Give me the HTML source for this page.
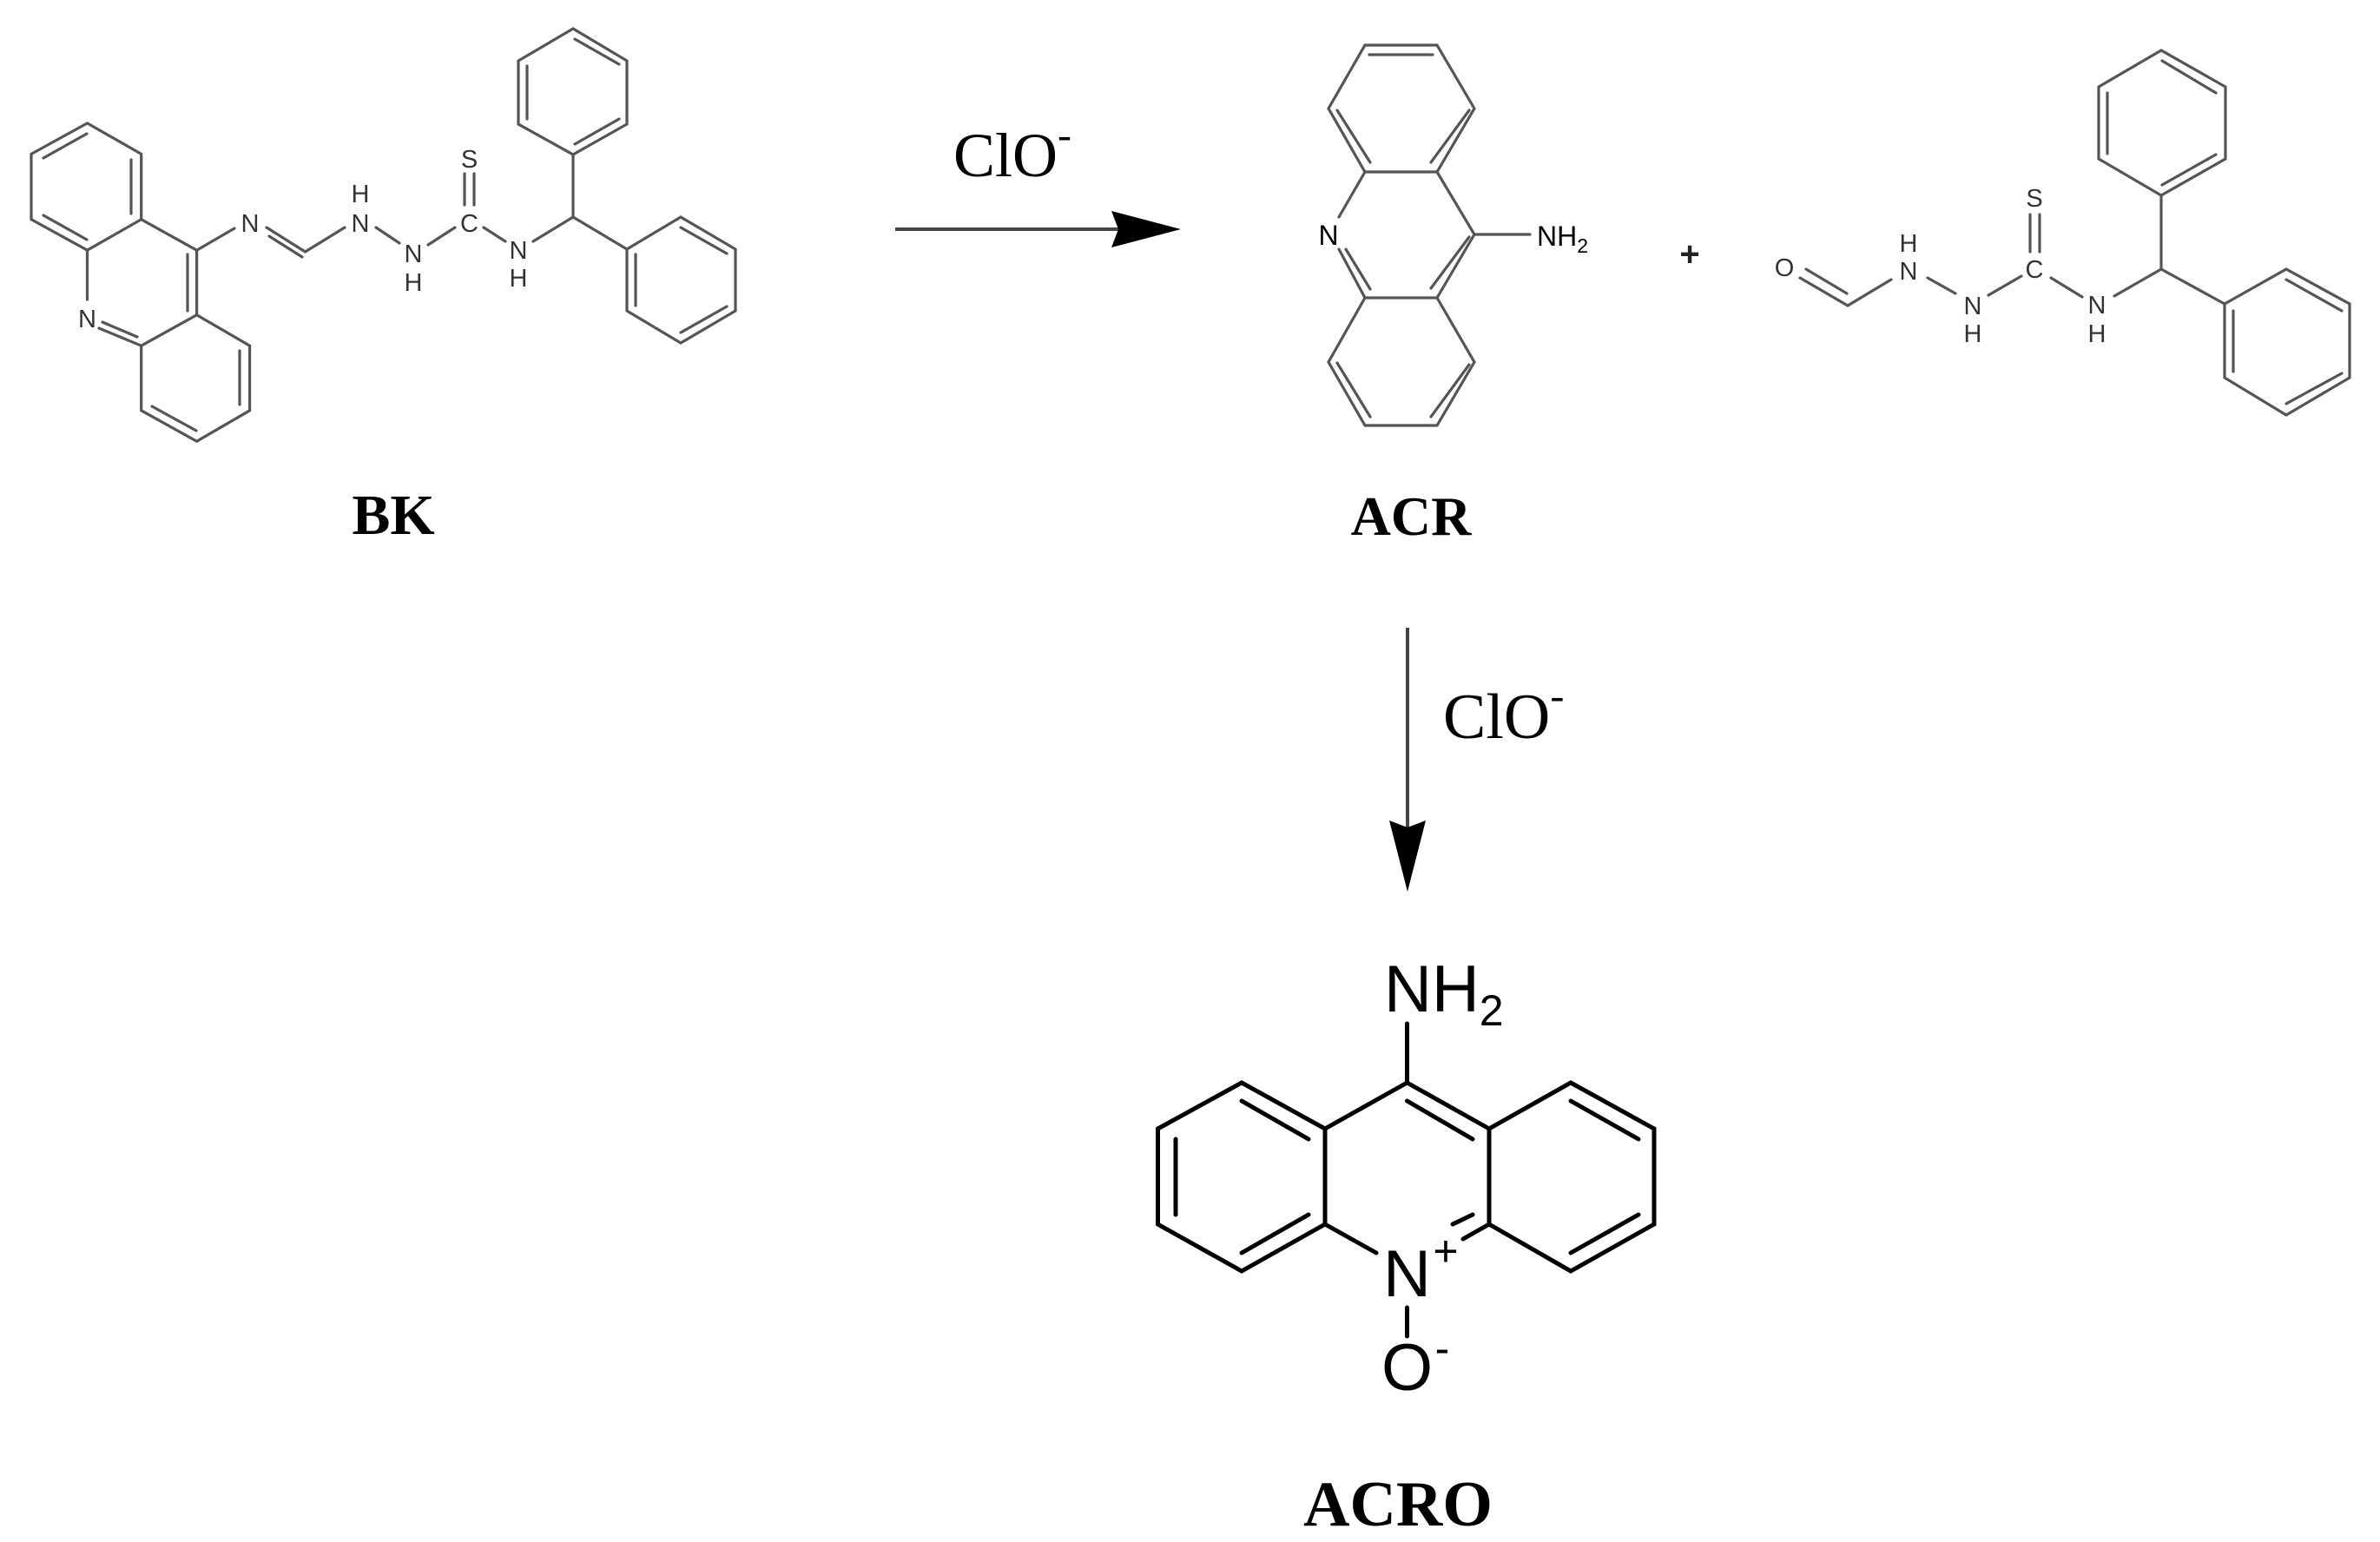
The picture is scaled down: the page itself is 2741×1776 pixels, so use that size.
<!DOCTYPE html>
<html><head><meta charset="utf-8"><style>
html,body{margin:0;padding:0;background:#fff;}
svg{display:block;}
.g{stroke:#555;stroke-width:3.2;fill:none;stroke-linecap:round;}
.k{stroke:#000;stroke-width:5;fill:none;stroke-linecap:round;}
.a{font-family:"Liberation Sans",sans-serif;font-size:29px;fill:#333;text-anchor:middle;}
.b{font-family:"Liberation Serif",serif;font-weight:bold;fill:#000;text-anchor:middle;}
.c{font-family:"Liberation Serif",serif;fill:#000;}
.n{font-family:"Liberation Sans",sans-serif;fill:#000;}
</style></head><body>
<svg width="2741" height="1776" viewBox="0 0 2741 1776" xmlns="http://www.w3.org/2000/svg">
<rect width="2741" height="1776" fill="#fff"/>

<!-- BK -->
<g class="g">
<polyline points="100.5,141.9 162.7,177.4 162.7,252.7 100.5,288.2 36,252.7 36,177.4 100.5,141.9"/>
<line x1="50" y1="182" x2="100" y2="154"/>
<line x1="151" y1="184" x2="151" y2="246"/>
<line x1="50" y1="248" x2="100" y2="276"/>
<line x1="162.7" y1="252.7" x2="226.6" y2="288.2"/>
<line x1="226.6" y1="288.2" x2="226.6" y2="362.7"/>
<line x1="216" y1="293" x2="216" y2="358"/>
<line x1="226.6" y1="362.7" x2="162.7" y2="398.2"/>
<line x1="100.5" y1="288.2" x2="100.5" y2="345"/>
<line x1="114" y1="378" x2="162.7" y2="398.2"/>
<line x1="118" y1="371" x2="158" y2="388"/>
<polyline points="226.6,362.7 287.6,398.2 287.6,472.8 226.6,508.3 162.7,472.8 162.7,398.2"/>
<line x1="276" y1="404" x2="276" y2="466"/>
<line x1="175" y1="468" x2="226" y2="496"/>
<line x1="226.6" y1="288.2" x2="270" y2="263"/>
<line x1="307" y1="262" x2="351.5" y2="290"/>
<line x1="310" y1="272" x2="348" y2="296"/>
<line x1="351.5" y1="290" x2="397" y2="262"/>
<line x1="433" y1="262" x2="460" y2="280"/>
<line x1="493" y1="282" x2="524" y2="262"/>
<line x1="557" y1="262" x2="582" y2="278"/>
<line x1="535" y1="200" x2="535" y2="236"/>
<line x1="546" y1="200" x2="546" y2="236"/>
<line x1="614" y1="278" x2="660" y2="250"/>
<line x1="660" y1="250" x2="660" y2="178"/>
<line x1="660" y1="250" x2="722" y2="287"/>
<polygon points="660,178 722,143 722,70 660,33 597,70 597,143"/>
<line x1="607" y1="76" x2="607" y2="137"/>
<line x1="662" y1="166" x2="713" y2="137"/>
<line x1="662" y1="45" x2="713" y2="74"/>
<polygon points="784,250 847,287 847,358 784,395 722,358 722,287"/>
<line x1="784" y1="262" x2="837" y2="292"/>
<line x1="732" y1="293" x2="732" y2="352"/>
<line x1="784" y1="383" x2="837" y2="353"/>
</g>
<text class="a" x="100.5" y="377">N</text>
<text class="a" x="288" y="267">N</text>
<text class="a" x="415" y="267">N</text><text class="a" x="415" y="233">H</text>
<text class="a" x="476" y="302">N</text><text class="a" x="476" y="335">H</text>
<text class="a" x="540.5" y="267">C</text>
<text class="a" x="540.5" y="193">S</text>
<text class="a" x="597" y="298">N</text><text class="a" x="597" y="330">H</text>
<text class="b" x="453" y="615" font-size="66">BK</text>

<!-- arrow 1 -->
<line x1="1031" y1="264" x2="1290" y2="264" stroke="#444" stroke-width="4"/>
<polygon points="1280,243 1360,264 1280,285 1288,264" fill="#000"/>
<text class="c" x="1098" y="203" font-size="72">ClO<tspan font-size="48" dy="-32">-</tspan></text>

<!-- ACR -->
<g class="g">
<polygon points="1572,52 1655,52 1698,125 1655,198 1572,198 1530,125"/>
<line x1="1577" y1="63" x2="1650" y2="63"/>
<line x1="1648" y1="187" x2="1692" y2="127"/>
<line x1="1540" y1="127" x2="1578" y2="187"/>
<line x1="1655" y1="198" x2="1698" y2="270"/>
<line x1="1698" y1="270" x2="1655" y2="343"/>
<line x1="1648" y1="332" x2="1692" y2="273"/>
<line x1="1542" y1="250" x2="1572" y2="198"/>
<line x1="1542" y1="287" x2="1572" y2="343"/>
<line x1="1550" y1="287" x2="1578" y2="333"/>
<polygon points="1572,343 1655,343 1698,417 1655,490 1572,490 1530,417"/>
<line x1="1648" y1="480" x2="1692" y2="420"/>
<line x1="1540" y1="418" x2="1578" y2="480"/>
<line x1="1698" y1="270" x2="1762" y2="270"/>
</g>
<text class="n" x="1530" y="282" font-size="32" text-anchor="middle" fill="#333">N</text>
<text class="n" x="1770" y="283" font-size="32" fill="#333">NH<tspan font-size="23" dy="8">2</tspan></text>
<text class="b" x="1625" y="616" font-size="64">ACR</text>
<text x="1946" y="306" font-family="Liberation Sans,sans-serif" font-weight="bold" font-size="40" text-anchor="middle" fill="#222">+</text>

<!-- byproduct -->
<g class="g">
<line x1="2073" y1="320" x2="2128" y2="352"/>
<line x1="2080" y1="310" x2="2127" y2="338"/>
<line x1="2128" y1="352" x2="2178" y2="322"/>
<line x1="2220" y1="320" x2="2252" y2="338"/>
<line x1="2290" y1="340" x2="2328" y2="318"/>
<line x1="2338" y1="247" x2="2338" y2="290"/>
<line x1="2349" y1="247" x2="2349" y2="290"/>
<line x1="2362" y1="320" x2="2398" y2="342"/>
<line x1="2435" y1="341" x2="2489" y2="310"/>
<line x1="2489" y1="310" x2="2489" y2="225"/>
<line x1="2489" y1="310" x2="2562" y2="350"/>
<polygon points="2489,225 2563,183 2563,100 2489,58 2417,100 2417,183"/>
<line x1="2427" y1="107" x2="2427" y2="177"/>
<line x1="2490" y1="70" x2="2552" y2="107"/>
<line x1="2490" y1="213" x2="2552" y2="178"/>
<polygon points="2562,350 2633,310 2706,350 2706,435 2633,478 2562,435"/>
<line x1="2633" y1="322" x2="2697" y2="358"/>
<line x1="2572" y1="358" x2="2572" y2="428"/>
<line x1="2633" y1="465" x2="2697" y2="430"/>
</g>
<text class="a" x="2055" y="318">O</text>
<text class="a" x="2198" y="322">N</text><text class="a" x="2198" y="290">H</text>
<text class="a" x="2272" y="362">N</text><text class="a" x="2272" y="394">H</text>
<text class="a" x="2343" y="320">C</text>
<text class="a" x="2343" y="238">S</text>
<text class="a" x="2415" y="361">N</text><text class="a" x="2415" y="394">H</text>

<!-- arrow 2 -->
<line x1="1621" y1="723" x2="1621" y2="955" stroke="#444" stroke-width="4"/>
<polygon points="1600,945 1621,1027 1642,945 1621,953" fill="#000"/>
<text class="c" x="1662" y="850" font-size="74">ClO<tspan font-size="48" dy="-33">-</tspan></text>

<!-- ACRO -->
<g class="k">
<line x1="1620.5" y1="1179" x2="1620.5" y2="1247"/>
<line x1="1620.5" y1="1247" x2="1526" y2="1300"/>
<line x1="1620.5" y1="1247" x2="1715" y2="1300"/>
<line x1="1620.5" y1="1268" x2="1696" y2="1312"/>
<line x1="1526" y1="1300" x2="1526" y2="1410"/>
<line x1="1715" y1="1300" x2="1715" y2="1410"/>
<line x1="1526" y1="1410" x2="1585" y2="1443"/>
<line x1="1715" y1="1410" x2="1685" y2="1427"/>
<line x1="1673" y1="1410" x2="1696" y2="1399"/>
<polyline points="1526,1300 1430,1247 1333.5,1300 1333.5,1410 1430,1464 1526,1410"/>
<line x1="1354" y1="1312" x2="1354" y2="1399"/>
<line x1="1430" y1="1268" x2="1507" y2="1312"/>
<line x1="1430" y1="1443" x2="1507" y2="1399"/>
<polyline points="1715,1300 1809,1247 1905,1300 1905,1410 1809,1464 1715,1410"/>
<line x1="1809" y1="1268" x2="1887" y2="1312"/>
<line x1="1887" y1="1399" x2="1809" y2="1443"/>
<line x1="1620.5" y1="1506" x2="1620.5" y2="1539"/>
</g>
<text class="n" x="1594" y="1165" font-size="76">NH<tspan font-size="50" dy="16">2</tspan></text>
<text class="n" x="1620.5" y="1493" font-size="76" text-anchor="middle">N</text>
<text class="n" x="1665" y="1458" font-size="50" text-anchor="middle">+</text>
<text class="n" x="1620.5" y="1601" font-size="76" text-anchor="middle">O</text>
<text class="n" x="1661" y="1570" font-size="50" text-anchor="middle">-</text>
<text class="b" x="1610" y="1757" font-size="74">ACRO</text>
</svg>
</body></html>
